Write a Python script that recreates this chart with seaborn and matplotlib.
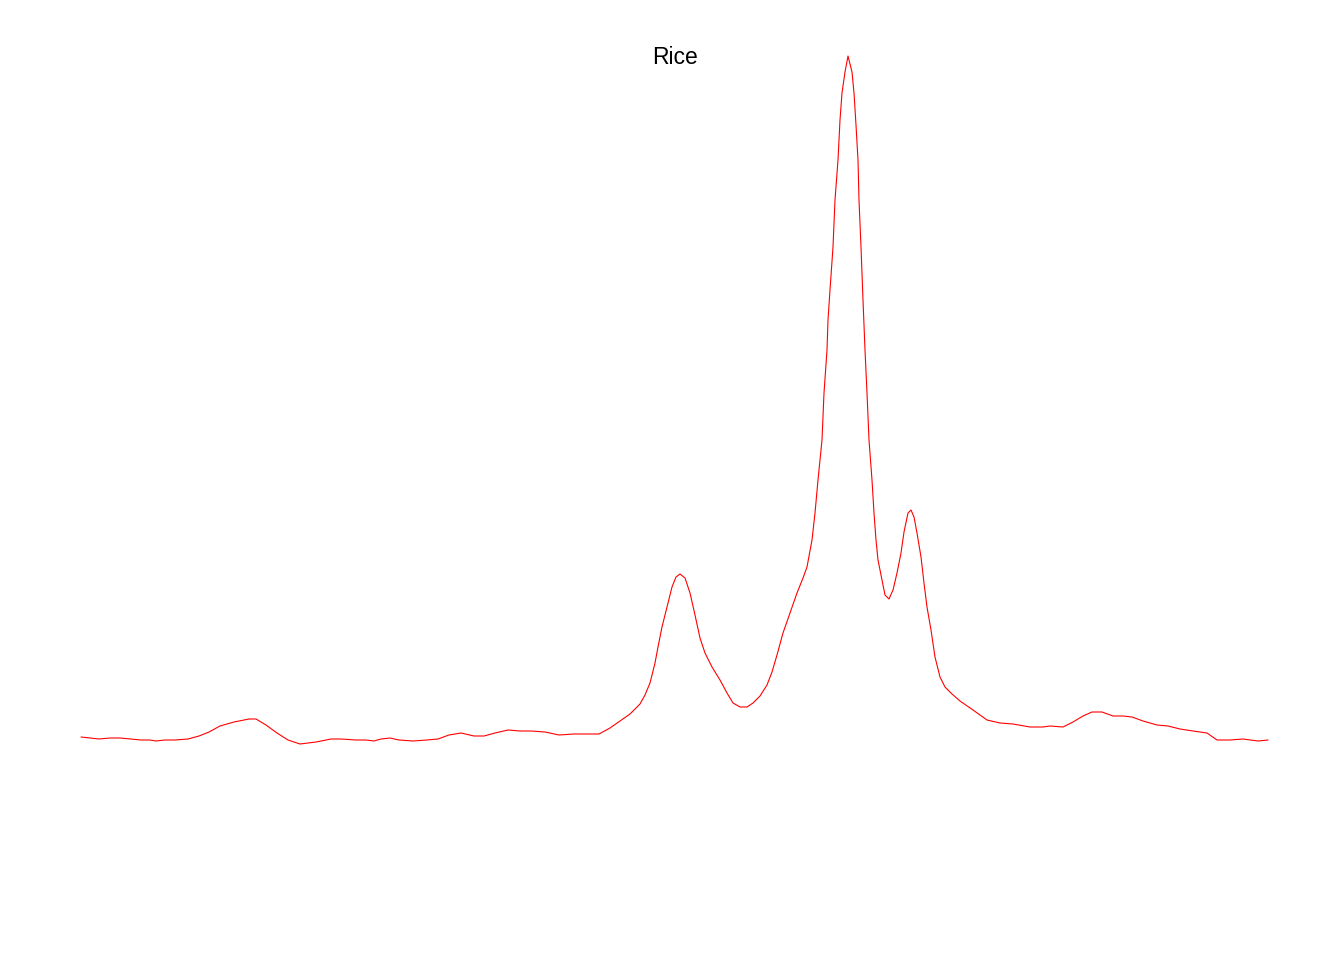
import numpy as np
import matplotlib.pyplot as plt
import pandas as pd
import seaborn as sns

# spectrum (channel vs intensity, arbitrary units)
channel = [0, 9, 18, 29, 39, 49, 60, 69, 75, 84, 94, 107, 118, 128, 139, 153, 168, 175,
           185, 196, 207, 219, 235, 250, 260, 275, 285, 293, 300, 309, 318, 332, 346, 357,
           368, 380, 393, 403, 414, 427, 439, 450, 464, 478, 493, 507, 518, 529, 539, 549,
           559, 564, 569, 574, 577, 581, 586, 591, 595, 599, 604, 609, 614, 619, 624, 631,
           639, 646, 652, 659, 666, 672, 679, 686, 691, 696, 702, 709, 716, 722, 726, 731,
           734, 737, 741, 743, 746, 747, 749, 752, 754, 757, 759, 761, 764, 767, 771, 773,
           775, 777, 778, 780, 782, 784, 786, 788, 791, 793, 795, 797, 801, 804, 808, 812,
           816, 820, 823, 827, 830, 833, 836, 840, 843, 846, 850, 854, 859, 864, 871, 879,
           892, 906, 919, 932, 949, 962, 969, 982, 992, 1002, 1011, 1021, 1032, 1042, 1051,
           1062, 1076, 1087, 1099, 1112, 1126, 1136, 1149, 1162, 1177, 1187]
intensity = [13, 12, 11, 12, 12, 11, 10, 10, 9, 10, 10, 11, 14, 18, 24, 28, 31, 31,
             25, 17, 10, 6, 8, 11, 11, 10, 10, 9, 11, 12, 10, 9, 10, 11,
             15, 17, 14, 14, 17, 20, 19, 19, 18, 15, 16, 16, 16, 22, 29, 36,
             46, 55, 67, 87, 103, 123, 143, 163, 173, 176, 172, 157, 135, 112, 97, 83,
             70, 57, 47, 43, 43, 47, 54, 65, 78, 95, 117, 137, 157, 172, 183, 210,
             237, 270, 310, 357, 400, 430, 460, 503, 550, 590, 630, 657, 678, 694, 678, 657,
             625, 590, 550, 503, 450, 400, 357, 310, 270, 237, 210, 190, 170, 155, 151, 160,
             177, 197, 218, 237, 240, 233, 217, 193, 167, 143, 120, 93, 73, 63, 56, 49,
             40, 30, 27, 26, 23, 23, 24, 23, 28, 34, 38, 38, 34, 34, 33,
             29, 25, 24, 21, 19, 17, 10, 10, 11, 9, 10]

df = pd.DataFrame({"channel": channel, "intensity": intensity})

sns.set_style("white")
plt.rcParams['font.family'] = ['Liberation Sans', 'DejaVu Sans']

fig = plt.figure(figsize=(13.44, 9.6), dpi=100)
ax = fig.add_axes([0, 0, 1, 1])
sns.lineplot(data=df, x="channel", y="intensity", color="red", linewidth=0.8, ax=ax)
ax.set_xlim(-81, 1263)
ax.set_ylim(-210, 750)
ax.axis("off")

fig.text(675 / 1344, 1 - 58 / 960, "Rice", ha="center", va="center",
         fontsize=16.5, color="black")

fig.savefig("out.png", dpi=100)
